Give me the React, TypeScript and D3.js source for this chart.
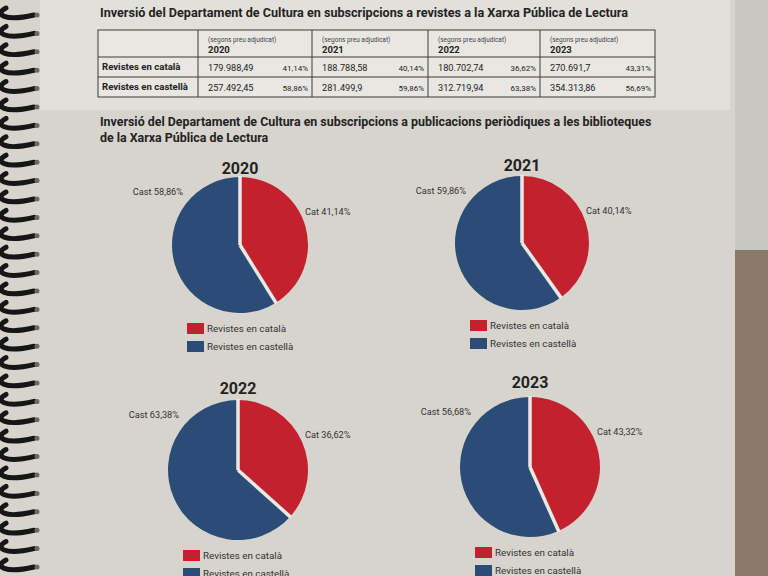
import { useEffect, useRef } from 'react';
import * as d3 from 'd3';

// table + pie data read from the page
const years = ['2020', '2021', '2022', '2023'];
const rowLabels = ['Revistes en català', 'Revistes en castellà'];
const catAmounts = [179988.49, 188788.58, 180702.74, 270691.7];
const castAmounts = [257492.45, 281499.9, 312719.94, 354313.86];
const catTablePct = [41.14, 40.14, 36.62, 43.31];
const castTablePct = [58.86, 59.86, 63.38, 56.69];
const pieCat = [41.14, 40.14, 36.62, 43.32];
const pieCast = [58.86, 59.86, 63.38, 56.68];
const legendLabels = ['Revistes en català', 'Revistes en castellà'];

const RED = '#c3212d';
const BLUE = '#2b4c76';
const INK = '#232323';
const PAPER = '#d7d4cd';
const FONT = 'Roboto, "Noto Sans", sans-serif';

const locale = d3.formatLocale({ decimal: ',', thousands: '.', grouping: [3], currency: ['', ''] });
const fmtAmount = locale.format(',.2~f');
const fmtPct = (v: number) => locale.format('.2f')(v) + '%';

// where each pie sits on the page
const pieLayout = [
  { cx: 240, cy: 245, r: 68, ty: 174 },
  { cx: 522, cy: 243, r: 67, ty: 171 },
  { cx: 238, cy: 470, r: 70, ty: 394 },
  { cx: 530, cy: 467, r: 70, ty: 388 },
];

export default function App() {
  const svgRef = useRef<SVGSVGElement>(null);

  useEffect(() => {
    if (!svgRef.current) return;
    const svg = d3.select(svgRef.current);
    svg.selectAll('*').remove();

    // backdrop: desk, page, spiral
    svg.append('rect').attr('width', 768).attr('height', 576).attr('fill', '#8a7b68');
    svg.append('rect').attr('x', 700).attr('width', 68).attr('height', 250).attr('fill', '#c9c7c2');
    svg.append('rect').attr('x', 0).attr('width', 735).attr('height', 576).attr('fill', PAPER);
    svg.append('rect').attr('x', 40).attr('width', 690).attr('height', 110).attr('fill', '#e2e0da');

    const coils = svg.append('g');
    d3.range(31).forEach((i) => {
      const y = 8 + i * 18.4;
      coils.append('path')
        .attr('d', `M6,${y} C-6,${y + 6} 4,${y + 14} 34,${y + 7}`)
        .attr('fill', 'none').attr('stroke', '#161616').attr('stroke-width', 5).attr('stroke-linecap', 'round');
      coils.append('circle').attr('cx', 37).attr('cy', y + 7).attr('r', 2.5).attr('fill', '#6b6862');
    });

    // title 1
    svg.append('text').attr('x', 100).attr('y', 17).attr('font-family', FONT).attr('font-weight', 700)
      .attr('font-size', 12.6).attr('fill', INK)
      .text('Inversió del Departament de Cultura en subscripcions a revistes a la Xarxa Pública de Lectura');

    // table
    const colEdges = [98, 198, 312, 428, 540, 655];
    const rowEdges = [30, 57, 77, 97];
    const t = svg.append('g').attr('font-family', FONT).attr('fill', INK);
    t.append('rect').attr('x', colEdges[0]).attr('y', rowEdges[0])
      .attr('width', colEdges[5] - colEdges[0]).attr('height', rowEdges[3] - rowEdges[0])
      .attr('fill', '#e9e7e2').attr('stroke', '#3a3a3a').attr('stroke-width', 1);
    colEdges.slice(1, -1).forEach((x) => {
      t.append('line').attr('x1', x).attr('x2', x).attr('y1', rowEdges[0]).attr('y2', rowEdges[3]).attr('stroke', '#3a3a3a');
    });
    rowEdges.slice(1, -1).forEach((y) => {
      t.append('line').attr('x1', colEdges[0]).attr('x2', colEdges[5]).attr('y1', y).attr('y2', y).attr('stroke', '#3a3a3a');
    });

    years.forEach((yr, i) => {
      const x0 = colEdges[i + 1];
      const x1 = colEdges[i + 2];
      t.append('text').attr('x', x0 + 10).attr('y', 42).attr('font-size', 6.5).attr('fill', '#444').text('(segons preu adjudicat)');
      t.append('text').attr('x', x0 + 10).attr('y', 53).attr('font-size', 9.5).attr('font-weight', 700).text(yr);
      const rows = [
        { amt: catAmounts[i], pct: catTablePct[i], y: rowEdges[1] },
        { amt: castAmounts[i], pct: castTablePct[i], y: rowEdges[2] },
      ];
      rows.forEach((r) => {
        t.append('text').attr('x', x0 + 10).attr('y', r.y + 14).attr('font-size', 9.2).text(fmtAmount(r.amt));
        t.append('text').attr('x', x1 - 4).attr('y', r.y + 14).attr('font-size', 8).attr('text-anchor', 'end').text(fmtPct(r.pct));
      });
    });
    rowLabels.forEach((lab, j) => {
      t.append('text').attr('x', 102).attr('y', rowEdges[j + 1] + 13).attr('font-size', 9.6).attr('font-weight', 700).text(lab);
    });

    // title 2
    const t2 = svg.append('text').attr('x', 100).attr('font-family', FONT).attr('font-weight', 700)
      .attr('font-size', 12.4).attr('fill', INK);
    t2.append('tspan').attr('x', 100).attr('y', 126)
      .text('Inversió del Departament de Cultura en subscripcions a publicacions periòdiques a les biblioteques');
    t2.append('tspan').attr('x', 100).attr('y', 142).text('de la Xarxa Pública de Lectura');

    // pies
    const pie = d3.pie<number>().sort(null).value((d) => d);
    const colors = [RED, BLUE];

    years.forEach((yr, i) => {
      const L = pieLayout[i];
      const g = svg.append('g').attr('transform', `translate(${L.cx},${L.cy})`).attr('font-family', FONT);
      const arc = d3.arc<d3.PieArcDatum<number>>().innerRadius(0).outerRadius(L.r);
      const arcs = pie([pieCat[i], pieCast[i]]);

      g.selectAll('path.slice').data(arcs).join('path')
        .attr('class', 'slice')
        .attr('d', arc)
        .attr('fill', (_, k) => colors[k]);

      // paper-coloured gaps along the slice boundaries
      arcs.forEach((a) => {
        const ang = a.startAngle - Math.PI / 2;
        g.append('line')
          .attr('x1', 0).attr('y1', 0)
          .attr('x2', Math.cos(ang) * (L.r + 1)).attr('y2', Math.sin(ang) * (L.r + 1))
          .attr('stroke', '#ebe9e3').attr('stroke-width', 3.5);
      });

      g.append('text').attr('x', 0).attr('y', L.ty - L.cy).attr('text-anchor', 'middle')
        .attr('font-size', 16).attr('font-weight', 700).attr('fill', INK).text(yr);

      g.append('text').attr('x', -L.r + 11).attr('y', -L.r + 18).attr('text-anchor', 'end')
        .attr('font-size', 9.2).attr('fill', '#333').text('Cast ' + fmtPct(pieCast[i]));
      g.append('text').attr('x', L.r - 3).attr('y', -L.r + 38)
        .attr('font-size', 9.2).attr('fill', '#333').text('Cat ' + fmtPct(pieCat[i]));

      const lg = g.append('g').attr('transform', `translate(${-L.r + 15},${L.r + 10})`);
      legendLabels.forEach((lab, k) => {
        lg.append('rect').attr('x', 0).attr('y', k * 18).attr('width', 17).attr('height', 11).attr('fill', colors[k]);
        lg.append('text').attr('x', 20).attr('y', k * 18 + 9).attr('font-size', 9.8).attr('fill', '#333').text(lab);
      });
    });
  }, []);

  return (
    <svg
      ref={svgRef}
      width={768}
      height={576}
      style={{ position: 'absolute', left: 0, top: 0, display: 'block' }}
    />
  );
}
